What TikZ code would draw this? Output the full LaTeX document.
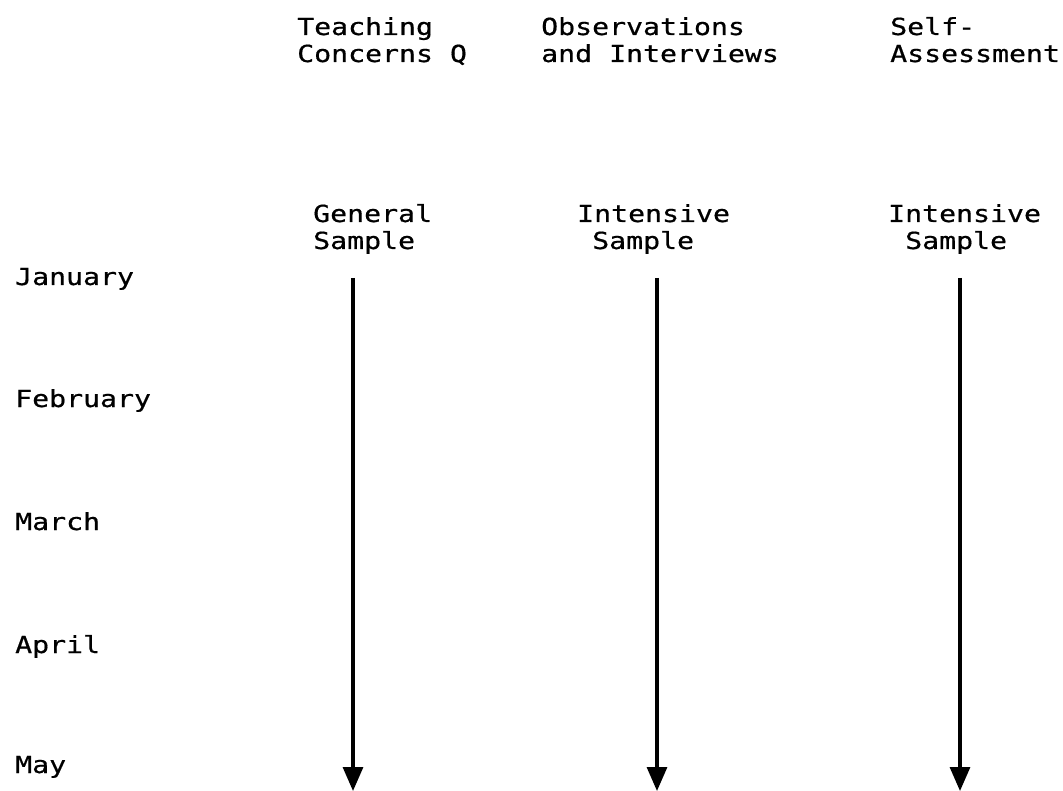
\documentclass[tikz,border=0pt]{standalone}
\usepackage{fontspec}
\newfontfamily\twfont[FakeStretch=1.2,FakeBold=0.6]{DejaVu Sans Mono}
\usetikzlibrary{arrows.meta}
\begin{document}
\begin{tikzpicture}[x=1pt,y=-1pt,
  lbl/.style={anchor=base west,inner sep=0pt,font=\twfont\fontsize{23.5}{27}\selectfont},
  arr/.style={line width=3.2pt,-{Triangle[width=20pt,length=24pt]}}]
\useasboundingbox (0,0) rectangle (1063,791);
% headers
\node[lbl] (h1a) at (297,35) {Teaching};
\node[lbl] (h1b) at (297,62) {Concerns Q};
\node[lbl] (h2a) at (541,35) {Observations};
\node[lbl] (h2b) at (541,62) {and Interviews};
\node[lbl] (h3a) at (890,35) {Self-};
\node[lbl] (h3b) at (890,62) {Assessment};
% samples
\node[lbl] (s1a) at (313,222) {General};
\node[lbl] (s1b) at (313,249) {Sample};
\node[lbl] (s2a) at (577,222) {Intensive};
\node[lbl] (s2b) at (592,249) {Sample};
\node[lbl] (s3a) at (888,222) {Intensive};
\node[lbl] (s3b) at (905,249) {Sample};
% months
\node[lbl] (m1) at (15,285) {January};
\node[lbl] (m2) at (15,407) {February};
\node[lbl] (m3) at (15,530) {March};
\node[lbl] (m4) at (15,653) {April};
\node[lbl] (m5) at (15,773) {May};
% arrows
\coordinate (a1) at (353,278); \coordinate (b1) at (353,791);
\coordinate (a2) at (657,278); \coordinate (b2) at (657,791);
\coordinate (a3) at (960,278); \coordinate (b3) at (960,791);
\draw[arr] (a1) -- (b1);
\draw[arr] (a2) -- (b2);
\draw[arr] (a3) -- (b3);
\end{tikzpicture}
\end{document}
